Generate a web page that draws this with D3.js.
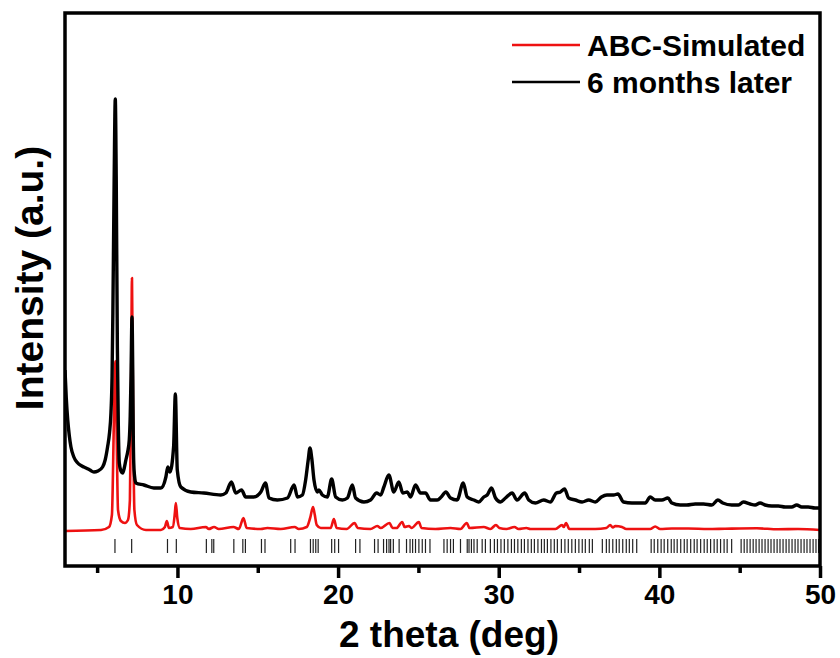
<!DOCTYPE html>
<html>
<head>
<meta charset="utf-8">
<script src="https://cdn.jsdelivr.net/npm/d3@7/dist/d3.min.js"></script>
<style>
  html, body { margin: 0; padding: 0; background: #fff; }
  svg { display: block; }
  text { font-family: "Liberation Sans", Arial, sans-serif; font-weight: bold; fill: #000; }
</style>
</head>
<body>
<svg id="chart" width="840" height="658"></svg>
<script>
// ---- Data (2θ in degrees, intensity in arbitrary units) ----
const seriesNames = ["ABC-Simulated", "6 months later"];

const simulatedTheta = [3.00,5.24,5.74,5.92,6.05,6.13,6.20,6.30,6.48,6.73,6.92,7.04,7.11,7.17,7.23,7.32,7.48,8.04,8.97,9.22,9.34,9.47,9.71,9.84,9.90,9.99,10.15,10.83,11.77,11.95,12.28,12.57,13.49,13.82,14.11,14.31,15.19,15.60,16.43,17.30,17.55,18.05,18.26,18.44,18.54,18.67,18.92,19.54,19.74,19.91,20.53,21.03,21.22,22.02,22.44,22.65,23.20,23.39,23.64,23.99,24.14,24.41,24.57,25.03,25.19,26.06,27.00,27.62,28.01,28.18,29.07,29.48,29.83,30.04,30.48,30.98,31.23,31.72,31.97,32.84,33.53,33.94,34.05,34.19,34.40,36.01,36.70,36.94,37.10,37.26,37.67,37.94,39.43,39.74,40.05,40.78,41.79,43.04,44.09,46.06,47.39,48.63,50.00];
const simulatedIntensity = [35,36,39,51,150,205,150,56,45,43,46,66,166,288,166,56,41,36,36,39,45,38,39,53,63,48,38,37,39,37,39,37,39,37,48,38,37,38,37,39,37,39,48,59,52,41,38,38,47,38,37,43,38,37,40,38,43,38,38,44,39,40,38,44,38,37,38,37,43,38,39,37,41,38,37,39,37,38,37,37,37,41,39,43,37,37,38,41,38.5,40,39,37,37,39.5,37,37.5,37.5,37,37.3,37.7,36.7,37,36];

const agedTheta = [3.00,3.08,3.17,3.27,3.37,3.55,3.79,4.05,4.31,4.55,4.80,5.05,5.34,5.50,5.65,5.77,5.86,5.93,5.98,6.06,6.13,6.19,6.26,6.32,6.38,6.48,6.59,6.69,6.79,6.90,7.00,7.06,7.11,7.17,7.22,7.25,7.28,7.33,7.41,7.91,8.53,8.97,9.28,9.40,9.53,9.76,9.87,9.99,10.21,10.83,11.64,12.70,13.01,13.36,13.63,13.99,14.25,14.75,15.19,15.48,15.70,16.22,16.85,17.26,17.47,17.78,17.98,18.14,18.25,18.36,18.50,18.71,18.81,19.02,19.33,19.60,19.85,20.26,20.58,20.89,21.09,21.61,22.02,22.40,22.65,22.85,23.16,23.47,23.78,24.03,24.31,24.51,24.82,25.13,25.44,25.75,26.17,26.42,26.71,27.00,27.41,27.79,28.04,28.45,28.76,29.07,29.28,29.55,29.80,30.11,30.42,30.83,31.14,31.62,31.87,32.28,32.80,33.21,33.59,33.84,34.10,34.35,34.77,35.19,35.60,36.01,36.39,36.74,37.15,37.42,37.77,38.29,38.70,39.12,39.43,39.74,40.16,40.53,40.78,41.30,41.71,42.23,42.75,43.27,43.64,43.95,44.51,44.92,45.23,45.65,45.96,46.27,46.58,47.00,47.41,47.83,48.24,48.55,48.86,49.27,49.69,50.00];
const agedIntensity = [196,168,146,130,119,109,103,100,98,96,94,95,99,106,119,133,153,190,253,386,467,386,219,140,103,95,93,98,106,114,126,150,190,249,190,130,103,90,83,81,78,78,89,99,94,119,172,96,79,74,73,71,73,84,73,76,69,69,74,83,68,66,68,81,69,71,86,106,118,108,86,74,76,71,69,87,69,66,68,81,68,64,66,73,71,79,91,74,84,73,74,69,81,73,73,66,66,69,74,68,66,83,69,66,64,69,71,78,68,64,68,73,66,73,66,63,66,64,73,74,77,68,66,64,66,64,69,71,71,72,64,63,63,63,69,66,66,68,63,61,61,62,62,61,66,63,61,61,64,62,61,63,61,60,60,59,59,61,59,59,58,58];

// Calculated reflection positions (2θ)
const reflections = [6.11,7.15,9.38,9.93,11.80,12.14,12.26,13.51,14.07,14.23,15.23,15.45,17.05,17.32,18.28,18.45,18.61,18.76,19.60,19.79,20.03,21.09,21.36,22.27,22.49,22.83,23.02,23.17,23.27,23.44,23.80,24.26,24.48,24.64,24.82,25.03,25.24,25.44,25.72,26.59,26.79,27.00,27.18,27.62,28.04,28.15,28.30,28.46,28.66,28.97,29.17,29.48,29.73,29.92,30.14,30.35,30.57,30.79,30.98,31.19,31.41,31.60,31.82,32.03,32.22,32.44,32.66,32.84,33.03,33.25,33.46,33.65,33.90,34.12,34.33,34.55,34.77,34.99,35.20,35.39,35.64,35.83,36.45,36.70,36.88,37.10,37.32,37.50,37.72,37.94,38.13,38.34,38.59,39.49,39.68,39.90,40.11,40.30,40.52,40.74,40.92,41.11,41.33,41.55,41.73,41.95,42.17,42.35,42.57,42.79,42.98,43.19,43.41,43.60,43.81,44.03,44.22,44.50,45.09,45.28,45.46,45.65,45.84,46.02,46.21,46.39,46.58,46.77,46.95,47.14,47.33,47.51,47.70,47.89,48.07,48.26,48.45,48.63,48.82,49.01,49.19,49.38,49.57,49.75,49.91];

const xMajorTicks = [10, 20, 30, 40, 50];
const xMinorTicks = [5, 15, 25, 35, 45];
const xTitle = "2 theta (deg)";
const yTitle = "Intensity (a.u.)";

// ---- Layout ----
const M = { left: 65, right: 820, top: 13, bottom: 566 };
const svg = d3.select("#chart");

const x = d3.scaleLinear().domain([3, 50]).range([M.left, M.right]);
const y = d3.scaleLinear().domain([0, 553]).range([M.bottom, M.top]);

const line = d3.line().curve(d3.curveMonotoneX).x(d => x(d[0])).y(d => y(d[1]));

const simData = simulatedTheta.map((t, i) => [t, simulatedIntensity[i]]);
const agedData = agedTheta.map((t, i) => [t, agedIntensity[i]]);

const plot = svg.append("g");
plot.append("clipPath").attr("id", "clip")
  .append("rect").attr("x", M.left).attr("y", M.top)
  .attr("width", M.right - M.left).attr("height", M.bottom - M.top);

// reflection markers
plot.append("g").selectAll("line").data(reflections).join("line")
  .attr("x1", d => x(d)).attr("x2", d => x(d))
  .attr("y1", 539).attr("y2", 553)
  .attr("stroke", "#222").attr("stroke-width", 1.2);

const curves = plot.append("g").attr("clip-path", "url(#clip)");
curves.append("path").datum(simData)
  .attr("d", line).attr("fill", "none")
  .attr("stroke", "#ee1111").attr("stroke-width", 2.6)
  .attr("stroke-linejoin", "round");
curves.append("path").datum(agedData)
  .attr("d", line).attr("fill", "none")
  .attr("stroke", "#000").attr("stroke-width", 3.4)
  .attr("stroke-linejoin", "round");

// frame
svg.append("rect")
  .attr("x", M.left).attr("y", M.top)
  .attr("width", M.right - M.left).attr("height", M.bottom - M.top)
  .attr("fill", "none").attr("stroke", "#000").attr("stroke-width", 3.5);

// bottom axis
const xAxis = d3.axisBottom(x).tickValues(xMajorTicks).tickSize(12).tickPadding(6)
  .tickFormat(d3.format("d"));
const gx = svg.append("g").attr("transform", `translate(0,${M.bottom})`).call(xAxis);
gx.select(".domain").remove();
gx.selectAll(".tick line").attr("stroke", "#000").attr("stroke-width", 3.5);
gx.selectAll(".tick text")
  .attr("font-family", "Liberation Sans, Arial, sans-serif")
  .attr("font-weight", "bold").attr("font-size", 28).attr("fill", "#000");

const xMinor = d3.axisBottom(x).tickValues(xMinorTicks).tickSize(7).tickFormat("");
const gxm = svg.append("g").attr("transform", `translate(0,${M.bottom})`).call(xMinor);
gxm.select(".domain").remove();
gxm.selectAll(".tick line").attr("stroke", "#000").attr("stroke-width", 3.5);

// axis titles
svg.append("text").attr("x", 449).attr("y", 647)
  .attr("text-anchor", "middle").attr("font-size", 37).text(xTitle);
svg.append("text")
  .attr("transform", `translate(43,278) rotate(-90)`)
  .attr("text-anchor", "middle").attr("font-size", 39).text(yTitle);

// legend
const legendColors = ["#ee1111", "#000"];
const lg = svg.append("g");
seriesNames.forEach((name, i) => {
  const yy = 45 + i * 37;
  lg.append("line").attr("x1", 512).attr("x2", 580).attr("y1", yy).attr("y2", yy)
    .attr("stroke", legendColors[i]).attr("stroke-width", 2.6);
  lg.append("text").attr("x", 587).attr("y", yy + 11)
    .attr("font-size", 30).text(name);
});
</script>
</body>
</html>
